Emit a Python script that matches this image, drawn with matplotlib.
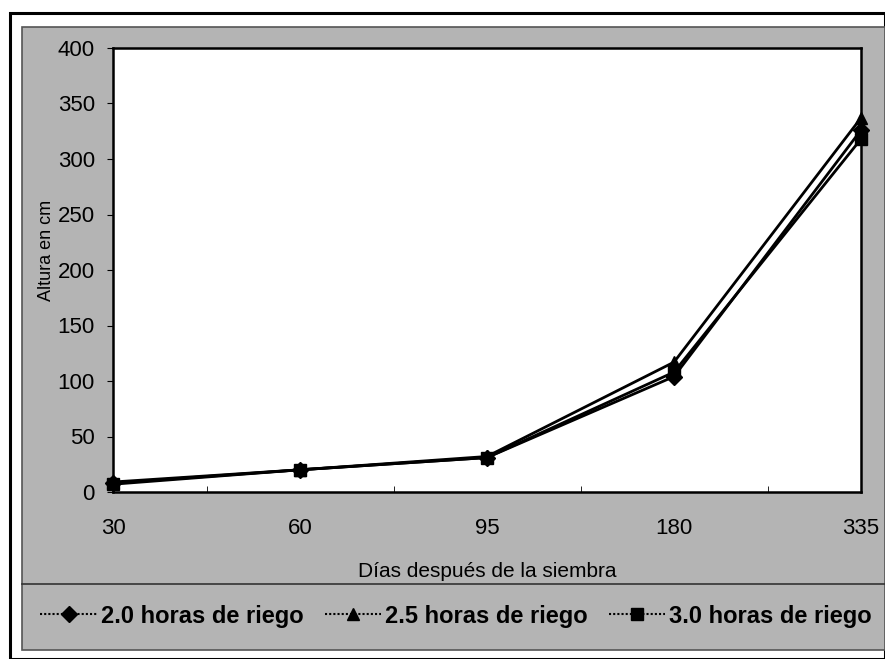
import matplotlib
matplotlib.use("Agg")
import matplotlib.pyplot as plt
from matplotlib.patches import Rectangle
from matplotlib.lines import Line2D

# ---------------------------------------------------------------- DATA -----
dias = ["30", "60", "95", "180", "335"]
riego_20 = [8, 20, 31, 104, 326]
riego_25 = [9, 20, 32, 117, 337]
riego_30 = [7, 20, 31, 108, 318]
series_labels = ["2.0 horas de riego", "2.5 horas de riego", "3.0 horas de riego"]
y_ticks = [0, 50, 100, 150, 200, 250, 300, 350, 400]

W, H = 885, 659
GREY = "#b4b4b4"
plt.rcParams["font.family"] = ["Liberation Sans", "DejaVu Sans"]

fig = plt.figure(figsize=(W / 100, H / 100), dpi=100)
fig.patch.set_facecolor("white")

# outer black frame and grey chart area (pixel coords -> figure fraction)
def fx(px): return px / W
def fy(py): return 1 - py / H

fig.patches.append(Rectangle((fx(10), fy(659)), fx(885) - fx(10), fy(13) - fy(659),
                             transform=fig.transFigure, fill=False, lw=2.2,
                             edgecolor="black", zorder=-2))
fig.patches.append(Rectangle((fx(22), fy(650)), 1 - fx(22), fy(27) - fy(650),
                             transform=fig.transFigure, facecolor=GREY, lw=1.2,
                             edgecolor="#555555", zorder=-2))
fig.lines.append(Line2D([fx(22), 1], [fy(584), fy(584)], transform=fig.transFigure,
                        color="#333333", lw=1.2, zorder=-1))

ax = fig.add_axes([fx(113), fy(492), fx(861) - fx(113), fy(48) - fy(492)])
ax.set_zorder(2)
ax.set_facecolor("white")

x = range(len(dias))
ax.plot(x, riego_20, color="black", lw=2, marker="D", ms=8, clip_on=False, zorder=3)
ax.plot(x, riego_25, color="black", lw=2, marker="^", ms=9, clip_on=False, zorder=3)
ax.plot(x, riego_30, color="black", lw=2, marker="s", ms=8, clip_on=False, zorder=3)

ax.set_xlim(0, len(dias) - 1)
ax.set_ylim(0, 400)
ax.set_yticks(y_ticks)
ax.set_xticks(list(x))
ax.set_xticklabels(dias, fontsize=16)
ax.tick_params(axis="y", labelsize=16, length=4, direction="out", pad=9)
ax.tick_params(axis="x", length=0, pad=19)
ax.set_xticks([0.5, 1.5, 2.5, 3.5], minor=True)
ax.tick_params(axis="x", which="minor", length=4, direction="in")
for s in ax.spines.values():
    s.set_linewidth(1.8)

ax.set_ylabel("Altura en cm", fontsize=13)
ax.yaxis.set_label_coords(-0.078, 0.545)
ax.set_xlabel("Días después de la siembra", fontsize=15, labelpad=16)

handles = [
    Line2D([], [], color="black", lw=1.5, ls=(0, (1, 1)), marker="D", ms=8),
    Line2D([], [], color="black", lw=1.5, ls=(0, (1, 1)), marker="^", ms=9),
    Line2D([], [], color="black", lw=1.5, ls=(0, (1, 1)), marker="s", ms=8),
]
leg = fig.legend(handles, series_labels, loc="center", ncol=3,
                 bbox_to_anchor=(fx(456), fy(616)), frameon=False,
                 prop={"size": 17, "weight": "bold"}, handlelength=2.4,
                 columnspacing=0.9, handletextpad=0.15)
leg.set_zorder(3)

fig.savefig("out.png", dpi=100)
